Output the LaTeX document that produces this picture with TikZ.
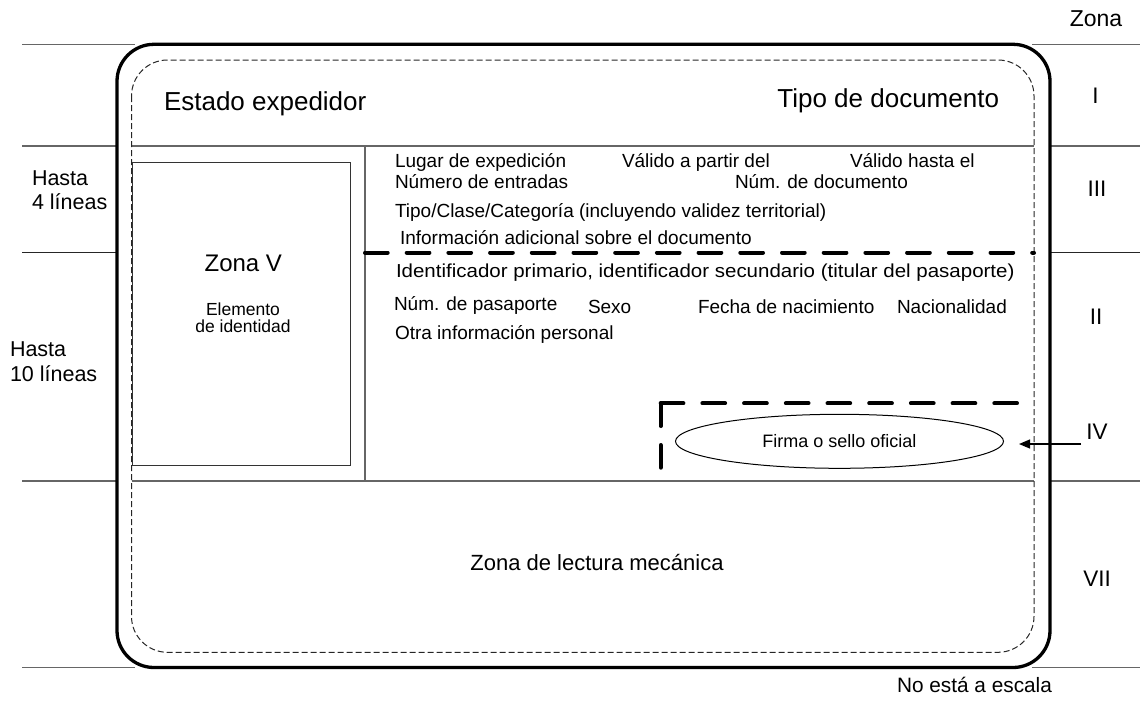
\documentclass[tikz,border=0pt]{standalone}
\usepackage{fontspec}
\setmainfont{Liberation Sans}
\newfontfamily\wideid{Liberation Sans}[FakeStretch=1.09]
\usetikzlibrary{arrows.meta,shapes.geometric}
\newcommand{\myfs}[1]{\fontsize{#1}{#1}\selectfont}
\begin{document}
\begin{tikzpicture}[x=1pt,y=-1pt,
  lbl/.style={inner sep=0pt, outer sep=0pt, anchor=base west},
  clbl/.style={inner sep=0pt, outer sep=0pt, anchor=base},
  rlbl/.style={inner sep=0pt, outer sep=0pt, anchor=base east},
  small/.style={font=\myfs{19}},
  zonefont/.style={font=\myfs{22.5}},
  gline/.style={draw=black!60, line width=1.3pt},
  bline/.style={draw=black!85, line width=1.2pt},
  thickdash/.style={line width=4pt, line cap=round, dash pattern=on 22.7pt off 19pt},
  border/.style={line width=3.3pt, rounded corners=37pt},
  inner/.style={line width=1pt, dash pattern=on 6pt off 3pt, rounded corners=36pt, draw=black!85}
]
\useasboundingbox (0,0) rectangle (1140,702);

% side guide lines
\coordinate (tl1) at (22,44.3);   \coordinate (tl2) at (135,44.3);
\coordinate (tr1) at (1032,44.3); \coordinate (tr2) at (1140,44.3);
\coordinate (bl1) at (22,667.5);  \coordinate (bl2) at (135,667.5);
\coordinate (br1) at (1032,667.5);\coordinate (br2) at (1140,667.5);
\draw[gline] (tl1) -- (tl2);
\draw[gline] (tr1) -- (tr2);
\draw[gline] (bl1) -- (bl2);
\draw[gline] (br1) -- (br2);

\coordinate (a1) at (22,146);   \coordinate (a2) at (117,146);
\coordinate (a3) at (131.5,146);\coordinate (a4) at (1034,146);
\coordinate (a5) at (1050,146); \coordinate (a6) at (1140,146);
\draw[gline] (a1) -- (a2);
\draw[gline] (a3) -- (a4);
\draw[gline] (a5) -- (a6);

\coordinate (b1) at (22,252.5);   \coordinate (b2) at (117,252.5);
\coordinate (b5) at (1050,252.5); \coordinate (b6) at (1140,252.5);
\draw[bline] (b1) -- (b2);
\draw[bline] (b5) -- (b6);

\coordinate (c1) at (22,481);   \coordinate (c2) at (117,481);
\coordinate (c3) at (131.5,481);\coordinate (c4) at (1034,481);
\coordinate (c5) at (1050,481); \coordinate (c6) at (1140,481);
\draw[gline] (c1) -- (c2);
\draw[gline] (c3) -- (c4);
\draw[gline] (c5) -- (c6);

\coordinate (v1) at (365,146); \coordinate (v2) at (365,481);
\draw[gline] (v1) -- (v2);

% card outlines
\draw[inner] (131.5,60) rectangle (1034,652.3);
\draw[border] (117,44.3) rectangle (1050,667.5);

% photo box
\node[draw=black!80, line width=1.3pt, minimum width=218pt, minimum height=303.3pt,
      inner sep=0pt, anchor=north west] (photo) at (131.5,161.7) {};

% thick dashed separators
\coordinate (d1) at (365,252.5); \coordinate (d2) at (1034,252.5);
\draw[thickdash] (d1) -- (d2);
\coordinate (sigc) at (660.7,403.3);
\coordinate (sigb) at (660.7,469.7);
\coordinate (sigr) at (1018.3,403.3);
\draw[thickdash] (sigc) -- (sigb);
\draw[thickdash] (sigc) -- (sigr);

% signature ellipse
\node[draw, ellipse, line width=1pt, minimum width=328pt, minimum height=54pt, inner sep=0pt,
      font=\myfs{18}] (firma) at (839.5,441.3) {Firma o sello oficial};

% arrow IV
\coordinate (ivtail) at (1081,444);
\coordinate (ivtip) at (1019,444);
\draw[line width=1.2pt, -{Triangle[length=11pt,width=9pt]}] (ivtail) -- (ivtip);

% zone labels
\node[clbl, font=\myfs{23}] (zona) at (1096,26) {Zona};
\node[clbl, zonefont] (zI) at (1095.5,103) {I};
\node[clbl, zonefont] (zIII) at (1097,196) {III};
\node[clbl, zonefont] (zII) at (1096,324) {II};
\node[clbl, zonefont] (zIV) at (1097,439) {IV};
\node[clbl, zonefont] (zVII) at (1097,586) {VII};
\node[lbl, font=\myfs{20.8}] (nota) at (897,692) {No está a escala};

% left labels
\node[lbl, font=\myfs{21.5}] (h1a) at (32,185) {Hasta};
\node[lbl, font=\myfs{21.5}] (h1b) at (32,209.3) {4 líneas};
\node[lbl, font=\myfs{21.5}] (h2a) at (10,356.7) {Hasta};
\node[lbl, font=\myfs{21.5}] (h2b) at (10,381.7) {10 líneas};

% zone I
\node[lbl, font=\myfs{26}] (estado) at (164,110.5) {Estado expedidor};
\node[rlbl, font=\myfs{26}] (tipo) at (999,107.5) {Tipo de documento};

% zone V
\node[clbl, font=\myfs{24}] (zonav) at (243.3,271) {Zona V};
\node[clbl, font=\myfs{17.5}] (elem1) at (243,315.7) {Elemento};
\node[clbl, font=\myfs{17.5}] (elem2) at (243,332) {de identidad};

% zone III
\node[lbl, small] (lugar) at (395,167.5) {Lugar de expedición};
\node[lbl, small] (valido1) at (622,167.5) {Válido a partir del};
\node[lbl, small] (valido2) at (850,167.5) {Válido hasta el};
\node[lbl, small] (numero) at (395,188.5) {Número de entradas};
\node[lbl, small] (numdoc) at (735,188.5) {Núm. de documento};
\node[lbl, small] (tipoclase) at (395,217) {Tipo/Clase/Categoría (incluyendo validez territorial)};
\node[lbl, small] (info) at (400,244.5) {Información adicional sobre el documento};

% zone II
\node[lbl, font=\wideid\myfs{18.8}] (ident) at (396,277.5) {Identificador primario, identificador secundario (titular del pasaporte)};
\node[lbl, small] (numpas) at (394,310) {Núm. de pasaporte};
\node[lbl, small] (sexo) at (588,313) {Sexo};
\node[lbl, small] (fecha) at (698,313) {Fecha de nacimiento};
\node[lbl, small] (nac) at (897,313) {Nacionalidad};
\node[lbl, small] (otra) at (395,339) {Otra información personal};

% zone VII
\node[clbl, font=\myfs{22}] (mrz) at (597,570.5) {Zona de lectura mecánica};
\end{tikzpicture}
\end{document}
